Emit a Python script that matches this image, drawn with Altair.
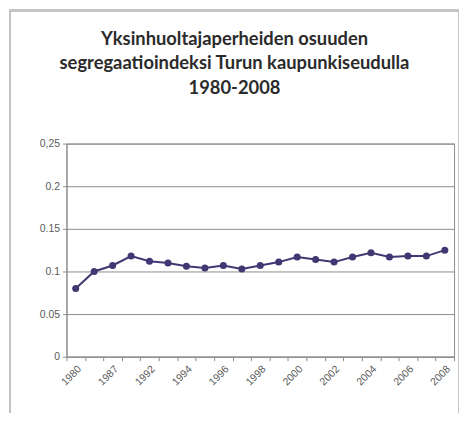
import altair as alt
import pandas as pd
import json

# data
years = ["1980", "1985", "1987", "1990", "1992", "1993", "1994", "1995", "1996", "1997",
         "1998", "1999", "2000", "2001", "2002", "2003", "2004", "2005", "2006", "2007", "2008"]
values = [0.080, 0.100, 0.107, 0.118, 0.112, 0.110, 0.106, 0.104, 0.107, 0.103,
          0.107, 0.111, 0.117, 0.114, 0.111, 0.117, 0.122, 0.117, 0.118, 0.118, 0.125]
x_tick_labels = ["1980", "1987", "1992", "1994", "1996", "1998", "2000", "2002", "2004", "2006", "2008"]
y_ticks = [0, 0.05, 0.1, 0.15, 0.2, 0.25]
y_tick_labels = ["0", "0.05", "0.1", "0.15", "0.2", "0,25"]

title_lines = ["Yksinhuoltajaperheiden osuuden",
               "segregaatioindeksi Turun kaupunkiseudulla",
               "1980-2008"]

df = pd.DataFrame({"year": years, "value": values})

x_label_expr = "indexof(" + json.dumps(x_tick_labels) + ", datum.label) >= 0 ? datum.label : ''"
y_label_expr = " : ".join(
    [f"abs(datum.value - {v}) < 1e-9 ? '{l}'" for v, l in zip(y_ticks, y_tick_labels)]
) + " : ''"

AXIS_GRAY = "#8c8c8c"
LABEL_GRAY = "#5a5a5a"
LINE_COLOR = "#3f3872"

x = alt.X(
    "year:N", sort=None, title=None,
    scale=alt.Scale(type="band", paddingInner=0, paddingOuter=0),
    axis=alt.Axis(
        tickBand="extent", labelAngle=-45, labelExpr=x_label_expr,
        labelFont="Liberation Sans", labelFontSize=10.5, labelColor=LABEL_GRAY,
        labelPadding=3, tickSize=4, tickColor=AXIS_GRAY, domainColor=AXIS_GRAY,
        grid=False, labelOverlap=False,
    ),
)
y = alt.Y(
    "value:Q", title=None,
    scale=alt.Scale(domain=[0, 0.25], nice=False, zero=True),
    axis=alt.Axis(
        values=y_ticks, labelExpr=y_label_expr,
        labelFont="Liberation Sans", labelFontSize=10.5, labelColor=LABEL_GRAY,
        labelPadding=3, tickSize=4, tickColor=AXIS_GRAY, domainColor=AXIS_GRAY,
        grid=True, gridColor=AXIS_GRAY, gridOpacity=1, gridWidth=1,
    ),
)

# decorative outer chart frame (Excel chart-area border)
frame = alt.Chart(df).mark_rect(
    fill=None, stroke="#c4c4c4", strokeWidth=2
).encode(
    x=alt.value(-57), x2=alt.value(396), y=alt.value(-134), y2=alt.value(290)
)

line = alt.Chart(df).mark_line(color=LINE_COLOR, strokeWidth=2).encode(x=x, y=y)
points = alt.Chart(df).mark_point(filled=True, color=LINE_COLOR, size=50, opacity=1).encode(x=x, y=y)

chart = (
    alt.layer(frame, line, points)
    .properties(
        width=391, height=215,
        autosize=alt.AutoSizeParams(type="none"),
        padding={"left": 59, "top": 135, "right": 5, "bottom": 55},
        title=alt.TitleParams(
            text=title_lines, font="Lato", fontSize=18.5, fontWeight="bold",
            color="#2b2b2b", lineHeight=24.5, offset=-88, anchor="middle", dx=-26,
            frame="group",
        ),
        background="white",
    )
    .configure_view(stroke=AXIS_GRAY, strokeWidth=1)
)

chart.save("out.html", embed_options={"renderer": "svg", "actions": False})
